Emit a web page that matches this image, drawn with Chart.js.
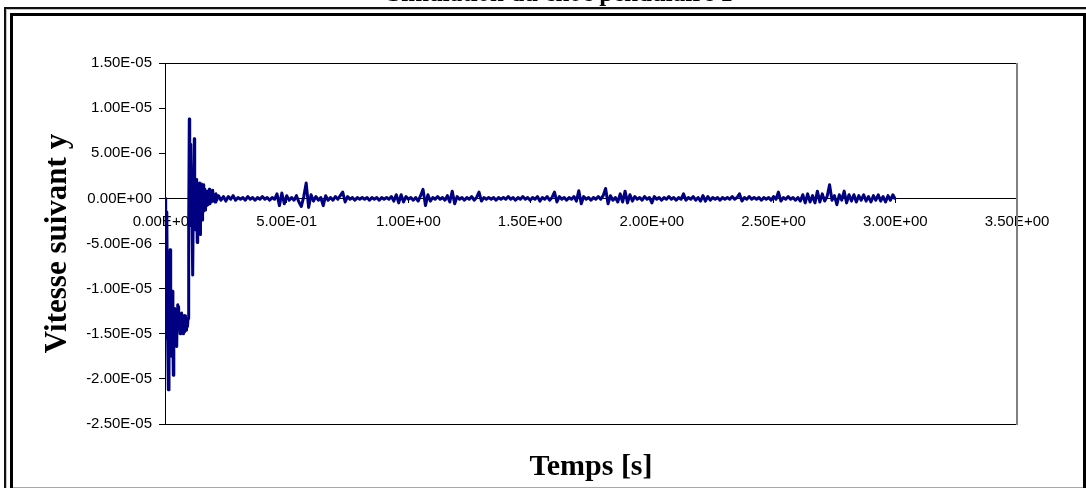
<!DOCTYPE html>
<html lang="fr">
<head>
<meta charset="utf-8">
<title>Vitesse suivant y</title>
<script src="https://cdn.jsdelivr.net/npm/chart.js@4.4.0/dist/chart.umd.min.js"></script>
<style>
  html, body { margin: 0; padding: 0; background: #fff; }
  #graphe { display: block; }
</style>
</head>
<body>
<canvas id="graphe" width="1086" height="488"></canvas>
<script>
// Phase de choc : échantillons serrés (temps en s, vitesse en 1E-06)
const tempsChoc = [
  0, 0.0016, 0.0041, 0.0074, 0.0103, 0.0136, 0.0164, 0.0185, 0.0210, 0.0234,
  0.0255, 0.0279, 0.0304, 0.0325, 0.0341, 0.0362, 0.0382, 0.0403, 0.0423, 0.0444,
  0.0464, 0.0481, 0.0501, 0.0522, 0.0542, 0.0559, 0.0579, 0.0600, 0.0620, 0.0641,
  0.0661, 0.0682, 0.0702, 0.0723, 0.0744, 0.0760, 0.0781, 0.0801, 0.0822, 0.0842,
  0.0863, 0.0883, 0.0904, 0.0924, 0.0945, 0.0965, 0.0982, 0.0998, 0.1015, 0.1031,
  0.1048, 0.1064, 0.1080, 0.1097, 0.1117, 0.1138, 0.1158, 0.1179, 0.1204, 0.1220,
  0.1237, 0.1253, 0.1269, 0.1286, 0.1302, 0.1323, 0.1343, 0.1364, 0.1384, 0.1405,
  0.1421, 0.1438, 0.1458, 0.1479, 0.1499, 0.1520, 0.1545, 0.1569, 0.1590, 0.1614,
  0.1639, 0.1664, 0.1688, 0.1713, 0.1738, 0.1766, 0.1795, 0.1820, 0.1844, 0.1873,
  0.1902, 0.1931, 0.1960, 0.1988, 0.2021, 0.2054, 0.2091, 0.2128, 0.2169
];
const vitesseChoc = [
  0, -15.5, -9, -1.5, -14, -21.2, -16, -10, -5.7, -13,
  -17.5, -12.5, -10.3, -16, -19.6, -14, -12.2, -15, -12.4, -14.8,
  -13, -16.4, -12.5, -11.8, -14, -12, -14.5, -12.8, -15, -13,
  -14.2, -12.7, -14.6, -13.2, -15, -14, -13, -14.8, -13, -14.3,
  -13.4, -14.6, -13.6, -14.2, -13.3, -12, -3, 8.8, 1, 6,
  -3, 4, -1, 2.4, -4, -8.5, -2, 3, 6.6, -1,
  2, -3.5, 1.5, -2, 2.1, -4.9, 1.5, -2, 1.2, -2.5,
  1.7, -4.0, 1.3, -1.8, 1.6, -2.4, 1.2, -1.4, 1.5, -1.2,
  1.0, -1.3, 0.7, -0.8, 0.8, -0.7, 0.6, 1.0, -0.6, 0.5,
  -0.4, 0.6, 0.9, -0.3, 0.4, -0.4, 0.5, -0.2, 0.3
];

// Régime établi : un point toutes les 10 ms
const tempsStable = [
  0.22, 0.23, 0.24, 0.25, 0.26, 0.27, 0.28, 0.29, 0.30, 0.31,
  0.32, 0.33, 0.34, 0.35, 0.36, 0.37, 0.38, 0.39, 0.40, 0.41,
  0.42, 0.43, 0.44, 0.45, 0.46, 0.47, 0.48, 0.49, 0.50, 0.51,
  0.52, 0.53, 0.54, 0.55, 0.56, 0.57, 0.58, 0.59, 0.60, 0.61,
  0.62, 0.63, 0.64, 0.65, 0.66, 0.67, 0.68, 0.69, 0.70, 0.71,
  0.72, 0.73, 0.74, 0.75, 0.76, 0.77, 0.78, 0.79, 0.80, 0.81,
  0.82, 0.83, 0.84, 0.85, 0.86, 0.87, 0.88, 0.89, 0.90, 0.91,
  0.92, 0.93, 0.94, 0.95, 0.96, 0.97, 0.98, 0.99, 1.00, 1.01,
  1.02, 1.03, 1.04, 1.05, 1.06, 1.07, 1.08, 1.09, 1.10, 1.11,
  1.12, 1.13, 1.14, 1.15, 1.16, 1.17, 1.18, 1.19, 1.20, 1.21,
  1.22, 1.23, 1.24, 1.25, 1.26, 1.27, 1.28, 1.29, 1.30, 1.31,
  1.32, 1.33, 1.34, 1.35, 1.36, 1.37, 1.38, 1.39, 1.40, 1.41,
  1.42, 1.43, 1.44, 1.45, 1.46, 1.47, 1.48, 1.49, 1.50, 1.51,
  1.52, 1.53, 1.54, 1.55, 1.56, 1.57, 1.58, 1.59, 1.60, 1.61,
  1.62, 1.63, 1.64, 1.65, 1.66, 1.67, 1.68, 1.69, 1.70, 1.71,
  1.72, 1.73, 1.74, 1.75, 1.76, 1.77, 1.78, 1.79, 1.80, 1.81,
  1.82, 1.83, 1.84, 1.85, 1.86, 1.87, 1.88, 1.89, 1.90, 1.91,
  1.92, 1.93, 1.94, 1.95, 1.96, 1.97, 1.98, 1.99, 2.00, 2.01,
  2.02, 2.03, 2.04, 2.05, 2.06, 2.07, 2.08, 2.09, 2.10, 2.11,
  2.12, 2.13, 2.14, 2.15, 2.16, 2.17, 2.18, 2.19, 2.20, 2.21,
  2.22, 2.23, 2.24, 2.25, 2.26, 2.27, 2.28, 2.29, 2.30, 2.31,
  2.32, 2.33, 2.34, 2.35, 2.36, 2.37, 2.38, 2.39, 2.40, 2.41,
  2.42, 2.43, 2.44, 2.45, 2.46, 2.47, 2.48, 2.49, 2.50, 2.51,
  2.52, 2.53, 2.54, 2.55, 2.56, 2.57, 2.58, 2.59, 2.60, 2.61,
  2.62, 2.63, 2.64, 2.65, 2.66, 2.67, 2.68, 2.69, 2.70, 2.71,
  2.72, 2.73, 2.74, 2.75, 2.76, 2.77, 2.78, 2.79, 2.80, 2.81,
  2.82, 2.83, 2.84, 2.85, 2.86, 2.87, 2.88, 2.89, 2.90, 2.91,
  2.92, 2.93, 2.94, 2.95, 2.96, 2.97, 2.98, 2.99, 3.00
];
const vitesseStable = [
  0.3, -0.2, 0.2, -0.3, 0.2, -0.1, 0.3, -0.2, 0.1, -0.1,
  0.1, -0.2, 0.2, -0.1, 0.1, -0.2, 0.1, -0.1, 0.2, -0.1,
  0.1, -0.2, 0.1, -0.1, 0.5, -0.8, 0.6, -0.6, 0.3, -0.2,
  0.1, -0.2, 0.3, -0.4, -0.9, 0.2, 1.7, -1.0, 0.4, -0.3,
  0.2, -0.2, 0.1, -0.8, 0.3, -0.2, 0.1, -0.2, 0.2, -0.1,
  0.3, 0.7, -0.4, 0.2, -0.1, 0.1, -0.2, 0.1, -0.1, 0.1,
  -0.1, 0.1, -0.2, 0.1, -0.1, 0.1, -0.2, 0.1, -0.1, 0.1,
  -0.1, 0.2, -0.3, 0.4, -0.5, 0.4, -0.4, 0.2, -0.1, 0.1,
  -0.2, 0.1, -0.3, 0.3, 1.0, -0.8, 0.4, -0.3, 0.1, -0.1,
  0.2, -0.1, 0.1, -0.2, 0.3, -0.4, 0.8, -0.6, 0.2, -0.1,
  0.1, -0.2, 0.1, -0.1, 0.2, -0.2, 0.1, 0.7, -0.3, 0.1,
  -0.1, 0.1, -0.1, 0.1, -0.2, 0.1, -0.1, 0.1, -0.1, 0.2,
  -0.1, 0.1, -0.2, 0.1, -0.1, 0.2, -0.1, 0.1, -0.2, 0.1,
  -0.1, 0.2, -0.3, 0.1, -0.1, 0.2, -0.2, 0.1, 0.7, -0.4,
  0.2, -0.1, 0.1, -0.2, 0.1, -0.1, 0.2, -0.3, 0.85, -0.6,
  0.2, -0.1, 0.1, -0.2, 0.1, -0.1, 0.2, -0.1, 0.3, 1.1,
  -0.6, 0.3, -0.2, 0.1, -0.4, 0.5, -0.4, 0.8, -0.5, 0.4,
  -0.3, 0.2, -0.1, 0.1, -0.2, 0.2, -0.1, 0.1, -0.5, 0.2,
  -0.1, 0.1, -0.2, 0.1, -0.1, 0.2, -0.1, 0.1, -0.2, 0.1,
  -0.1, 0.5, -0.2, 0.1, -0.1, 0.2, -0.2, 0.1, -0.3, 0.3,
  -0.3, 0.2, -0.2, 0.1, -0.1, 0.1, -0.2, 0.1, -0.1, 0.1,
  -0.1, 0.2, -0.1, 0.1, 0.5, -0.3, 0.1, -0.1, 0.2, -0.1,
  0.1, -0.1, 0.1, -0.2, 0.1, -0.1, 0.1, -0.2, 0.2, -0.1,
  0.7, -0.3, 0.1, -0.1, 0.2, -0.1, 0.1, -0.2, 0.1, -0.3,
  0.4, -0.5, 0.5, -0.4, 0.3, -0.5, 0.8, -0.4, 0.5, -0.3,
  0.2, 1.5, -0.2, 0.3, -0.7, 0.4, -0.2, 0.8, -0.5, 0.4,
  -0.3, 0.4, -0.4, 0.3, -0.2, 0.4, -0.3, 0.2, -0.4, 0.3,
  -0.2, 0.4, -0.3, 0.2, -0.4, 0.3, -0.2, 0.4, -0.1
];

// Graduations des axes
const graduationsX = [0, 0.5, 1, 1.5, 2, 2.5, 3, 3.5];
const graduationsY = [-2.5e-5, -2e-5, -1.5e-5, -1e-5, -5e-6, 0, 5e-6, 1e-5, 1.5e-5];

const titreGraphe = 'Simulation du choc pendulaire 1';
const titreX = 'Temps [s]';
const titreY = 'Vitesse suivant y';

// Format scientifique façon tableur : 1.50E-05
function formatExcel(v) {
    if (Math.abs(v) < 1e-15) v = 0;
    const [mantisse, exposant] = v.toExponential(2).split('e');
    const signe = exposant[0] === '-' ? '-' : '+';
    const chiffres = exposant.replace(/[+-]/, '').padStart(2, '0');
    return mantisse + 'E' + signe + chiffres;
}

const points = [];
tempsChoc.forEach((t, i) => points.push({ x: t, y: vitesseChoc[i] * 1e-6 }));
tempsStable.forEach((t, i) => points.push({ x: t, y: vitesseStable[i] * 1e-6 }));

const policeTexte = '"Liberation Sans", Arial, sans-serif';
const policeTitre = '"Liberation Serif", "Times New Roman", serif';

// Cadre double autour du graphique, bordure de la zone de tracé et titres
const habillage = {
    id: 'habillage',
    beforeDraw(chart) {
        const ctx = chart.ctx;
        ctx.save();
        ctx.fillStyle = '#fff';
        ctx.fillRect(0, 0, chart.width, chart.height);
        // trait extérieur
        ctx.fillStyle = '#111';
        ctx.fillRect(4, 7, 2, chart.height);
        ctx.fillRect(4, 7, chart.width, 2);
        // filet gris
        ctx.fillStyle = '#c4c4c4';
        ctx.fillRect(6, 9, 1, chart.height);
        ctx.fillRect(6, 9, chart.width, 1);
        // trait intérieur épais
        ctx.fillStyle = '#000';
        ctx.fillRect(10, 13, 3, chart.height);
        ctx.fillRect(10, 13, chart.width, 3);
        ctx.fillRect(chart.width - 3, 13, 3, chart.height);
        ctx.fillStyle = '#a8a8a8';
        ctx.fillRect(13, chart.height - 1, chart.width - 16, 1);
        ctx.restore();
    },
    afterDraw(chart) {
        const ctx = chart.ctx;
        const a = chart.chartArea;
        ctx.save();
        // bordure de la zone de tracé
        ctx.strokeStyle = '#000';
        ctx.lineWidth = 1;
        ctx.beginPath();
        ctx.moveTo(a.left, a.top + 0.5);
        ctx.lineTo(a.right, a.top + 0.5);
        ctx.moveTo(a.left, a.bottom + 0.5);
        ctx.lineTo(a.right, a.bottom + 0.5);
        ctx.stroke();
        ctx.fillStyle = '#808080';
        ctx.fillRect(a.right - 1, a.top, 2, a.bottom - a.top + 1);

        ctx.fillStyle = '#000';
        ctx.textAlign = 'center';
        // titre (en grande partie hors du cadre)
        ctx.font = 'bold 25px ' + policeTitre;
        ctx.textBaseline = 'alphabetic';
        ctx.fillText(titreGraphe, 560, 0.6);
        // titres des axes
        ctx.font = 'bold 30px ' + policeTitre;
        ctx.textBaseline = 'middle';
        ctx.fillText(titreX, (a.left + a.right) / 2, 467);
        ctx.font = 'bold 31px ' + policeTitre;
        ctx.translate(58, (a.top + a.bottom) / 2);
        ctx.rotate(-Math.PI / 2);
        ctx.fillText(titreY, 0, 0);
        ctx.restore();
    }
};

new Chart(document.getElementById('graphe'), {
    type: 'line',
    data: {
        datasets: [{
            label: titreY,
            data: points,
            borderColor: '#000080',
            borderWidth: 3,
            borderJoinStyle: 'round',
            pointRadius: 0,
            fill: false,
            tension: 0
        }]
    },
    options: {
        responsive: false,
        animation: false,
        devicePixelRatio: 1,
        events: [],
        layout: { padding: { top: 63, right: 69, bottom: 64, left: 0 } },
        plugins: {
            legend: { display: false },
            tooltip: { enabled: false }
        },
        scales: {
            x: {
                type: 'linear',
                min: 0,
                max: 3.5,
                position: { y: 0 },
                afterFit: s => { s.height = 0; },
                afterBuildTicks: s => { s.ticks = graduationsX.map(v => ({ value: v })); },
                grid: { drawOnChartArea: false, tickLength: 4, color: '#000' },
                border: { color: '#000', width: 1 },
                ticks: {
                    autoSkip: false,
                    maxRotation: 0,
                    padding: 10,
                    color: '#000',
                    font: { family: policeTexte, size: 15 },
                    callback: v => formatExcel(v)
                }
            },
            y: {
                type: 'linear',
                min: -2.5e-5,
                max: 1.5e-5,
                afterFit: s => { s.width = 165; },
                afterBuildTicks: s => { s.ticks = graduationsY.map(v => ({ value: v })); },
                grid: { drawOnChartArea: false, tickLength: 6, color: '#000' },
                border: { color: '#000', width: 1 },
                ticks: {
                    padding: 7,
                    color: '#000',
                    font: { family: policeTexte, size: 15 },
                    callback: v => formatExcel(v)
                }
            }
        }
    },
    plugins: [habillage]
});
</script>
</body>
</html>
